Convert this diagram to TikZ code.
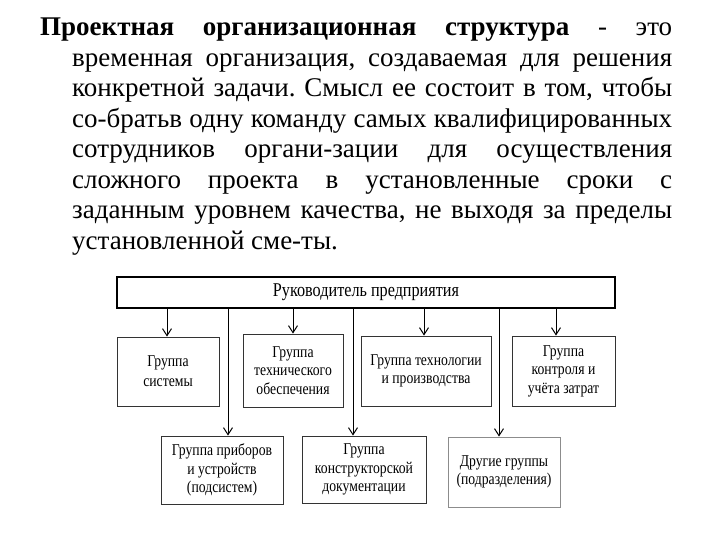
\documentclass[tikz,border=0pt]{standalone}
\usepackage{fontspec}
\setmainfont{Liberation Serif}
\newfontfamily\boxfont[FakeStretch=0.83]{Liberation Serif}
\usetikzlibrary{arrows.meta}
\frenchspacing
\begin{document}
\begin{tikzpicture}[x=1pt,y=-1pt,
  box/.style={draw=black!80, line width=0.9pt, inner sep=2pt, align=center,
    font=\boxfont\fontsize{16.5}{18.5}\selectfont},
  topbox/.style={draw=black, line width=1.2pt, inner sep=0pt,
    font=\boxfont\fontsize{19.5}{22}\selectfont},
  arr/.style={line width=1pt, -{Straight Barb[length=7pt,width=9pt,line width=1pt]}},
  para/.style={inner sep=0pt, align=left, anchor=north west,
    font=\fontsize{27}{30.5}\selectfont}]
\useasboundingbox (0,0) rectangle (720,540);
\fill[white] (0,0) rectangle (720,540);

\node[para] (txt) at (40,18) {%
\hbox to 632pt{\textbf{Проектная} \hfill \textbf{организационная} \hfill \textbf{структура} \hfill - \hfill это}\\
\hspace*{32pt}\hbox to 600pt{временная организация, создаваемая для решения}\\
\hspace*{32pt}\hbox to 600pt{конкретной задачи. Смысл ее состоит в том, чтобы}\\
\hspace*{32pt}\hbox to 600pt{со-братьв одну команду самых квалифицированных}\\
\hspace*{32pt}\hbox to 600pt{сотрудников \hfill органи-зации \hfill для \hfill осуществления}\\
\hspace*{32pt}\hbox to 600pt{сложного \hfill проекта \hfill в \hfill установленные \hfill сроки \hfill с}\\
\hspace*{32pt}\hbox to 600pt{заданным уровнем качества, не выходя за пределы}\\
\hspace*{32pt}установленной сме-ты.};

\node[topbox, minimum width=498pt, minimum height=31pt] (top) at (366,292.5) {Руководитель предприятия};

\node[box, minimum width=102pt, minimum height=69pt, font=\boxfont\fontsize{16.5}{20}\selectfont] (b1) at (168,371.5) {Группа\\системы};
\node[box, minimum width=100pt, minimum height=73pt] (b2) at (293,370.5) {Группа\\технического\\обеспечения};
\node[box, minimum width=130pt, minimum height=70pt] (b3) at (426,371) {Группа технологии\\и производства};
\node[box, minimum width=103pt, minimum height=70pt] (b4) at (563.5,371) {Группа\\контроля и\\учёта затрат};

\node[box, minimum width=122pt, minimum height=68pt] (c1) at (222,470) {Группа приборов\\и устройств\\(подсистем)};
\node[box, minimum width=124pt, minimum height=67pt] (c2) at (364,469.5) {Группа\\конструкторской\\документации};
\node[box, draw=black!45, minimum width=112pt, minimum height=70pt] (c3) at (504,472) {Другие группы\\(подразделения)};

\coordinate (a1) at (167,0);
\coordinate (a2) at (293,0);
\coordinate (a3) at (424,0);
\coordinate (a4) at (556,0);
\coordinate (d1) at (228,0);
\coordinate (d2) at (353,0);
\coordinate (d3) at (499,0);

\draw[arr] (top.south -| a1) -- (b1.north -| a1);
\draw[arr] (top.south -| a2) -- (b2.north -| a2);
\draw[arr] (top.south -| a3) -- (b3.north -| a3);
\draw[arr] (top.south -| a4) -- (b4.north -| a4);
\draw[arr] (top.south -| d1) -- (c1.north -| d1);
\draw[arr] (top.south -| d2) -- (c2.north -| d2);
\draw[arr] (top.south -| d3) -- (c3.north -| d3);
\end{tikzpicture}
\end{document}
